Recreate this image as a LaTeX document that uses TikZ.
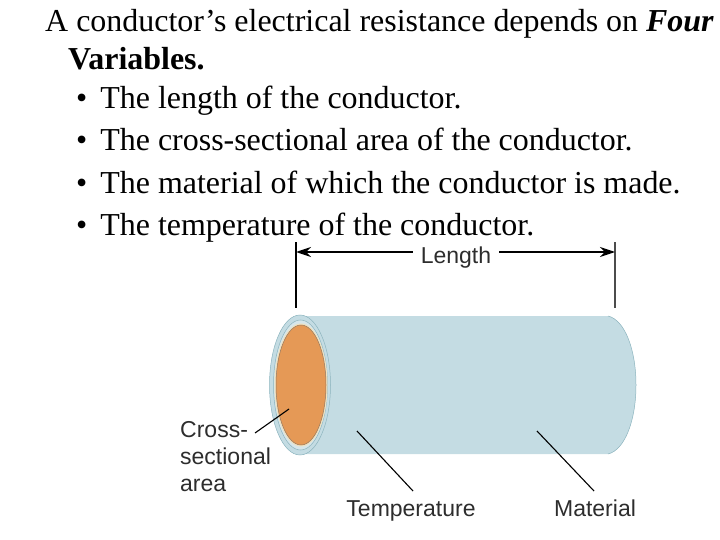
\documentclass[tikz,border=0pt]{standalone}
\usepackage{fontspec}
\setmainfont{Liberation Serif}
\newfontfamily\labelfont{Liberation Sans}
\usetikzlibrary{arrows.meta}
\definecolor{cyl}{RGB}{196,220,227}
\definecolor{cu}{RGB}{229,153,86}
\definecolor{cuedge}{RGB}{150,120,95}
\definecolor{rim}{RGB}{140,180,190}
\definecolor{inner}{RGB}{240,225,190}
\definecolor{lab}{RGB}{45,45,45}
\tikzset{
  x=1pt,y=-1pt,
  body/.style={font=\fontsize{31.95}{32}\selectfont,anchor=base west,inner sep=0pt,text=black},
  lbl/.style={font=\labelfont\fontsize{23}{27}\selectfont,text=lab,inner sep=0pt,anchor=base},
  leader/.style={draw=black,line width=1.1pt},
  dim/.style={draw=black,line width=1.4pt},
  dimarrow/.style={draw=black,line width=1.6pt,-{Stealth[length=15pt,width=10pt]}},
}
\begin{document}
\begin{tikzpicture}
\useasboundingbox (0,0) rectangle (720,540);
% text
\node[body] (t1) at (45,32) {A conductor’s electrical resistance depends on \textbf{\textit{Four}}};
\node[body] (t2) at (68,70) {\textbf{Variables.}};
\node[body] (t3) at (76,109) {•\hspace{5pt} The length of the conductor.};
\node[body] (t4) at (76,151) {•\hspace{5pt} The cross-sectional area of the conductor.};
\node[body] (t5) at (76,194) {•\hspace{5pt} The material of which the conductor is made.};
\node[body] (t6) at (76,236) {•\hspace{5pt} The temperature of the conductor.};
% cylinder
\fill[cyl] (300,316) -- (608,316) .. controls (625,320) and (636,350) .. (636,385)
  .. controls (636,420) and (625,450) .. (608,454) -- (300,454) -- cycle;
\draw[rim,line width=0.5pt] (608,316) .. controls (625,320) and (636,350) .. (636,385)
  .. controls (636,420) and (625,450) .. (608,454);
\draw[rim,line width=0.5pt,fill=cyl] (300,385) ellipse [x radius=30.5,y radius=70];
\draw[rim,line width=0.5pt,fill=cyl!70!white] (300.5,385) ellipse [x radius=27,y radius=65];
\draw[inner,line width=1pt,fill=inner] (301,385) ellipse [x radius=26,y radius=61];
\draw[cuedge,line width=0.5pt,fill=cu] (301,385) ellipse [x radius=25,y radius=60];
% dimension
\coordinate (la) at (296,242);
\coordinate (lb) at (296,308);
\coordinate (ra) at (615,242);
\coordinate (rb) at (615,308);
\coordinate (lt) at (296,252);
\coordinate (rt) at (615,252);
\draw[dim] (la) -- (lb);
\draw[dim,draw=black!70] (ra) -- (rb);
\node[lbl] (length) at (456,263) {Length};
\draw[dimarrow] ([xshift=-8pt]length.west |- lt) -- (lt);
\draw[dimarrow] ([xshift=8pt]length.east |- rt) -- (rt);
% labels
\node[lbl,align=left,anchor=north west] (cross) at (180,421) {Cross-\\sectional\\area};
\node[lbl] (temp) at (411,516) {Temperature};
\node[lbl] (mat) at (595,516) {Material};
\coordinate (cp) at (289,409);
\coordinate (tp) at (357,431);
\coordinate (mp) at (537,431);
\draw[leader] (255,433) -- (cp);
\draw[leader] (tp) -- (413,491);
\draw[leader] (mp) -- (594,491);
\end{tikzpicture}
\end{document}
